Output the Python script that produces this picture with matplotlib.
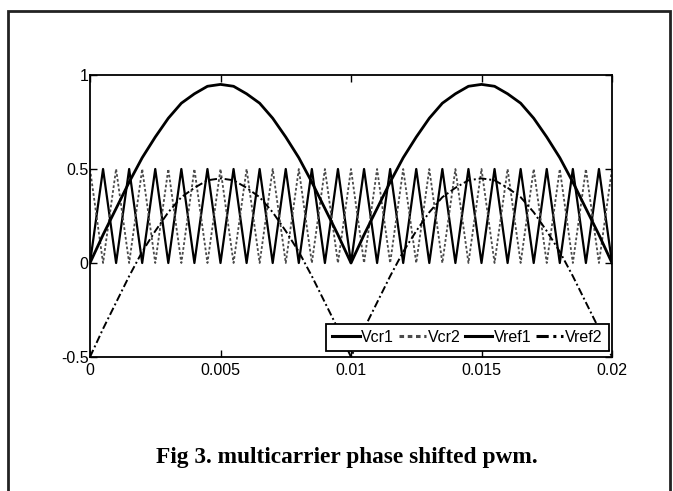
#!/usr/bin/env python3
"""Multicarrier phase shifted PWM: two triangular carriers and two references."""

import matplotlib

matplotlib.use("Agg")
import matplotlib.pyplot as plt
from matplotlib.patches import Rectangle

# sample instants (s), every 0.5 ms over two half-cycles of the reference
t = [
    0.0, 0.0005, 0.001, 0.0015, 0.002, 0.0025, 0.003, 0.0035, 0.004, 0.0045,
    0.005, 0.0055, 0.006, 0.0065, 0.007, 0.0075, 0.008, 0.0085, 0.009, 0.0095,
    0.01, 0.0105, 0.011, 0.0115, 0.012, 0.0125, 0.013, 0.0135, 0.014, 0.0145,
    0.015, 0.0155, 0.016, 0.0165, 0.017, 0.0175, 0.018, 0.0185, 0.019, 0.0195,
    0.02,
]

# carrier vertices (triangles between 0 and 0.5, shifted by half a period)
vcr1 = [0.0, 0.5] * 20 + [0.0]
vcr2 = [0.5, 0.0] * 20 + [0.5]

# references
half = [0.0, 0.15, 0.29, 0.43, 0.56, 0.67, 0.77, 0.85, 0.90, 0.94,
        0.95, 0.94, 0.90, 0.85, 0.77, 0.67, 0.56, 0.43, 0.29, 0.15]
vref1 = half + half + [0.0]
half2 = [-0.5, -0.35, -0.21, -0.07, 0.06, 0.17, 0.27, 0.35, 0.40, 0.44,
         0.45, 0.44, 0.40, 0.35, 0.27, 0.17, 0.06, -0.07, -0.21, -0.35]
vref2 = half2 + half2 + [-0.5]

xticks = [0, 0.005, 0.01, 0.015, 0.02]
xticklabels = ["0", "0.005", "0.01", "0.015", "0.02"]
yticks = [-0.5, 0, 0.5, 1]
yticklabels = ["-0.5", "0", "0.5", "1"]

SANS = ["Liberation Sans", "DejaVu Sans"]


def main() -> None:
    fig = plt.figure(figsize=(6.73, 4.91), dpi=100)
    ax = fig.add_axes([90 / 673, 1 - 357 / 491, 522 / 673, 282 / 491])

    ax.plot(t, vcr1, color="black", linewidth=1.6, label="Vcr1")
    ax.plot(t, vcr2, color="#4a4a4a", linewidth=1.3, linestyle=(0, (1.5, 1.2)), label="Vcr2")
    ax.plot(t, vref1, color="black", linewidth=2.0, label="Vref1")
    ax.plot(t, vref2, color="black", linewidth=1.4, linestyle=(0, (4, 1.5, 1, 1.5)), label="Vref2")

    ax.set_xlim(0, 0.02)
    ax.set_ylim(-0.5, 1)
    ax.set_xticks(xticks)
    ax.set_xticklabels(xticklabels)
    ax.set_yticks(yticks)
    ax.set_yticklabels(yticklabels)
    ax.tick_params(direction="in", length=5, width=1, top=True, right=True,
                   labelsize=11.5)
    ax.tick_params(axis="y", pad=1)
    ax.tick_params(axis="x", pad=4)
    for lab in ax.get_xticklabels() + ax.get_yticklabels():
        lab.set_family(SANS)
    for spine in ax.spines.values():
        spine.set_linewidth(1.3)

    leg = ax.legend(
        loc="lower right",
        bbox_to_anchor=(0.994, 0.02),
        ncol=4,
        frameon=True,
        fancybox=False,
        edgecolor="black",
        framealpha=1,
        handlelength=1.7,
        handletextpad=0.1,
        columnspacing=0.3,
        borderpad=0.4,
        borderaxespad=0,
        prop={"family": SANS, "size": 11.5},
    )
    leg.get_frame().set_linewidth(1.3)
    for line in leg.get_lines():
        line.set_linewidth(2.2)

    fig.text(0.515, 1 - 458 / 491, "Fig 3. multicarrier phase shifted pwm.",
             ha="center", va="center", fontsize=16.8, fontweight="bold",
             family=["Liberation Serif", "DejaVu Serif"])

    # page frame around the figure
    fig.patches.append(Rectangle((8, -20), 662, 491 - 11 + 20, transform=None,
                                 fill=False, edgecolor="#222222", linewidth=2))

    fig.savefig("out.png", dpi=100)
    plt.close(fig)


if __name__ == "__main__":
    main()
